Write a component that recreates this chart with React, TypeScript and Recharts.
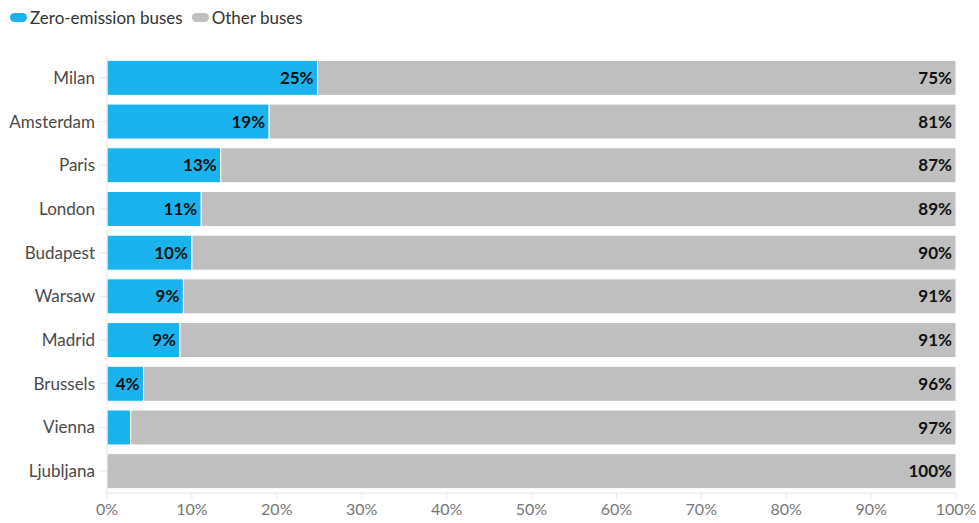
import { Bar, BarChart, CartesianGrid, LabelList, XAxis, YAxis } from 'recharts'

const cities = ['Milan', 'Amsterdam', 'Paris', 'London', 'Budapest', 'Warsaw', 'Madrid', 'Brussels', 'Vienna', 'Ljubljana']
const zeroEmission = [24.8, 19.1, 13.4, 11.1, 10.0, 9.0, 8.6, 4.3, 2.8, 0]
const otherBuses = [75.2, 80.9, 86.6, 88.9, 90.0, 91.0, 91.4, 95.7, 97.2, 100]
const xTicks = [0, 10, 20, 30, 40, 50, 60, 70, 80, 90, 100]

const BLUE = '#1bb3ee'
const GREY = '#bfbfbf'
const FONT = 'Lato, "Noto Sans", sans-serif'

const chartData = cities.map((city, i) => ({ city, zero: zeroEmission[i], other: otherBuses[i] }))

function pct(value: unknown, minShow = 0): string {
  const n = Number(value ?? 0)
  if (n < minShow) return ''
  return `${Math.round(n)}%`
}

if (typeof document !== 'undefined') document.body.style.margin = '0'

export default function App() {
  return (
    <div style={{ position: 'relative', width: 979, height: 523, fontFamily: FONT, background: '#fff' }}>
      <div style={{ position: 'absolute', left: 10, top: 7, display: 'flex', alignItems: 'center', fontSize: 17, color: '#333' }}>
        <span style={{ width: 17, height: 9, borderRadius: 5, background: BLUE, marginRight: 3 }} />
        <span style={{ marginRight: 9 }}>Zero-emission buses</span>
        <span style={{ width: 17, height: 9, borderRadius: 5, background: GREY, marginRight: 3 }} />
        <span>Other buses</span>
      </div>
      <BarChart
        width={979}
        height={523}
        data={chartData}
        layout="vertical"
        margin={{ top: 56, right: 23, bottom: 0, left: 0 }}
        barCategoryGap="10%"
      >
        <CartesianGrid horizontal={false} vertical={false} />
        <XAxis
          type="number"
          domain={[0, 100]}
          ticks={xTicks}
          tickFormatter={v => `${v}%`}
          stroke="#e6e6e6"
          tickSize={6}
          tickMargin={5}
          height={30}
          tick={{ fill: '#777', fontSize: 16, fontFamily: FONT }}
          interval={0}
        />
        <YAxis
          type="category"
          dataKey="city"
          width={107}
          stroke="#e6e6e6"
          tickSize={8}
          tickMargin={4}
          tick={{ fill: '#4a4a4a', fontSize: 17, fontFamily: FONT }}
        />
        <Bar dataKey="zero" stackId="a" fill={BLUE} stroke="#fff" strokeWidth={1} isAnimationActive={false}>
          <LabelList
            dataKey="zero"
            position="insideRight"
            offset={4}
            formatter={(v: unknown) => pct(v, 3.5)}
            style={{ fill: '#111', fontWeight: 700, fontSize: 17, fontFamily: FONT }}
          />
        </Bar>
        <Bar dataKey="other" stackId="a" fill={GREY} stroke="#fff" strokeWidth={1} isAnimationActive={false}>
          <LabelList
            dataKey="other"
            position="insideRight"
            offset={4}
            formatter={(v: unknown) => pct(v)}
            style={{ fill: '#111', fontWeight: 700, fontSize: 17, fontFamily: FONT }}
          />
        </Bar>
      </BarChart>
    </div>
  )
}
